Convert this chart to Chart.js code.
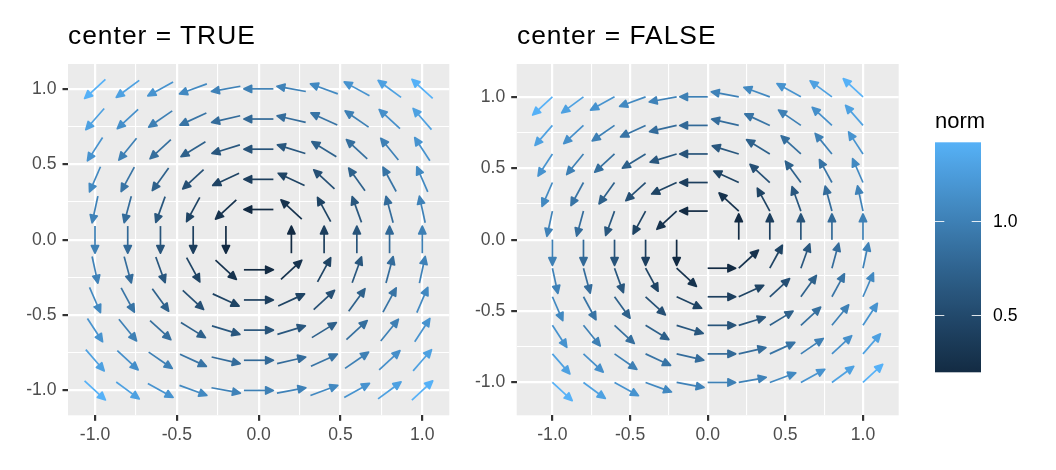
<!DOCTYPE html>
<html>
<head>
<meta charset="UTF-8" />
<title>vector field: center = TRUE / FALSE</title>
<script src="https://cdn.jsdelivr.net/npm/chart.js@4.4.1/dist/chart.umd.min.js"></script>
<style>
  html, body { margin: 0; padding: 0; background: #ffffff; }
  #wrap { position: relative; width: 1056px; height: 470px; overflow: hidden; }
  #wrap canvas { position: absolute; left: 0; top: 0; }
  .ptitle { position: absolute; font-family: "Liberation Sans", Arial, sans-serif; font-size: 26.4px; line-height: 26.4px; letter-spacing: 1px; color: #000; white-space: nowrap; }
</style>
</head>
<body>
<div id="wrap">
  <canvas id="c1" width="1056" height="470"></canvas>
  <canvas id="c2" width="1056" height="470"></canvas>
  <div class="ptitle" style="left:68px; top:22px;">center = TRUE</div>
  <div class="ptitle" style="left:517px; top:22px;">center = FALSE</div>
</div>
<script>
// grid of the field (x along a row, y rows from top to bottom)
const gridX = [-1, -0.8, -0.6, -0.4, -0.2, 0, 0.2, 0.4, 0.6, 0.8, 1];
const gridY = [1, 0.8, 0.6, 0.4, 0.2, 0, -0.2, -0.4, -0.6, -0.8, -1];

// field components at each grid point, read row by row
const fieldU = [
  [-1, -1, -1, -1, -1, -1, -1, -1, -1, -1, -1],
  [-0.8, -0.8, -0.8, -0.8, -0.8, -0.8, -0.8, -0.8, -0.8, -0.8, -0.8],
  [-0.6, -0.6, -0.6, -0.6, -0.6, -0.6, -0.6, -0.6, -0.6, -0.6, -0.6],
  [-0.4, -0.4, -0.4, -0.4, -0.4, -0.4, -0.4, -0.4, -0.4, -0.4, -0.4],
  [-0.2, -0.2, -0.2, -0.2, -0.2, -0.2, -0.2, -0.2, -0.2, -0.2, -0.2],
  [0, 0, 0, 0, 0, 0, 0, 0, 0, 0, 0],
  [0.2, 0.2, 0.2, 0.2, 0.2, 0.2, 0.2, 0.2, 0.2, 0.2, 0.2],
  [0.4, 0.4, 0.4, 0.4, 0.4, 0.4, 0.4, 0.4, 0.4, 0.4, 0.4],
  [0.6, 0.6, 0.6, 0.6, 0.6, 0.6, 0.6, 0.6, 0.6, 0.6, 0.6],
  [0.8, 0.8, 0.8, 0.8, 0.8, 0.8, 0.8, 0.8, 0.8, 0.8, 0.8],
  [1, 1, 1, 1, 1, 1, 1, 1, 1, 1, 1],
];
const fieldV = [
  [-1, -0.8, -0.6, -0.4, -0.2, 0, 0.2, 0.4, 0.6, 0.8, 1],
  [-1, -0.8, -0.6, -0.4, -0.2, 0, 0.2, 0.4, 0.6, 0.8, 1],
  [-1, -0.8, -0.6, -0.4, -0.2, 0, 0.2, 0.4, 0.6, 0.8, 1],
  [-1, -0.8, -0.6, -0.4, -0.2, 0, 0.2, 0.4, 0.6, 0.8, 1],
  [-1, -0.8, -0.6, -0.4, -0.2, 0, 0.2, 0.4, 0.6, 0.8, 1],
  [-1, -0.8, -0.6, -0.4, -0.2, 0, 0.2, 0.4, 0.6, 0.8, 1],
  [-1, -0.8, -0.6, -0.4, -0.2, 0, 0.2, 0.4, 0.6, 0.8, 1],
  [-1, -0.8, -0.6, -0.4, -0.2, 0, 0.2, 0.4, 0.6, 0.8, 1],
  [-1, -0.8, -0.6, -0.4, -0.2, 0, 0.2, 0.4, 0.6, 0.8, 1],
  [-1, -0.8, -0.6, -0.4, -0.2, 0, 0.2, 0.4, 0.6, 0.8, 1],
  [-1, -0.8, -0.6, -0.4, -0.2, 0, 0.2, 0.4, 0.6, 0.8, 1],
];

const majorTicks = [-1, -0.5, 0, 0.5, 1];
const minorTicks = [-0.75, -0.25, 0.25, 0.75];
const legendTicks = [0.5, 1.0];
const arrowLength = 0.18; // every arrow has the same length in data units

const FONT = '"Liberation Sans", Arial, sans-serif';
const lowColour = "#132B43";
const highColour = "#56B1F7";

// points (the origin has no vector, so no arrow)
const points = [];
gridY.forEach((y, i) => gridX.forEach((x, j) => {
  const u = fieldU[i][j], v = fieldV[i][j];
  const norm = Math.hypot(u, v);
  if (norm === 0) return;
  points.push({ x, y, u, v, norm });
}));
const normMin = Math.min(...points.map((p) => p.norm));
const normMax = Math.max(...points.map((p) => p.norm));

// ggplot style gradient, interpolated in Lab
function hexToRgb(h) { return [1, 3, 5].map((i) => parseInt(h.slice(i, i + 2), 16)); }
function toLin(c) { c /= 255; return c <= 0.04045 ? c / 12.92 : Math.pow((c + 0.055) / 1.055, 2.4); }
function fromLin(c) {
  const v = c <= 0.0031308 ? 12.92 * c : 1.055 * Math.pow(c, 1 / 2.4) - 0.055;
  return Math.round(Math.max(0, Math.min(1, v)) * 255);
}
const K = 24389 / 27, E = 216 / 24389;
function rgbToLab(rgb) {
  const [R, G, B] = rgb.map(toLin);
  const X = (0.4124564 * R + 0.3575761 * G + 0.1804375 * B) / 0.95047;
  const Y = 0.2126729 * R + 0.7151522 * G + 0.072175 * B;
  const Z = (0.0193339 * R + 0.119192 * G + 0.9503041 * B) / 1.08883;
  const f = (t) => (t > E ? Math.cbrt(t) : (K * t + 16) / 116);
  const fx = f(X), fy = f(Y), fz = f(Z);
  return [116 * fy - 16, 500 * (fx - fy), 200 * (fy - fz)];
}
function labToCss([L, a, b]) {
  const fy = (L + 16) / 116, fx = fy + a / 500, fz = fy - b / 200;
  const inv = (t) => { const t3 = t * t * t; return t3 > E ? t3 : (116 * t - 16) / K; };
  const X = inv(fx) * 0.95047, Y = inv(fy), Z = inv(fz) * 1.08883;
  const R = 3.2404542 * X - 1.5371385 * Y - 0.4985314 * Z;
  const G = -0.969266 * X + 1.8760108 * Y + 0.041556 * Z;
  const B = 0.0556434 * X - 0.2040259 * Y + 1.0572252 * Z;
  return "rgb(" + fromLin(R) + "," + fromLin(G) + "," + fromLin(B) + ")";
}
const labLow = rgbToLab(hexToRgb(lowColour));
const labHigh = rgbToLab(hexToRgb(highColour));
function gradientAt(t) { return labToCss(labLow.map((c, k) => c + (labHigh[k] - c) * t)); }
function colourFor(norm) { return gradientAt((norm - normMin) / (normMax - normMin)); }

function drawArrow(ctx, x0, y0, x1, y1, colour) {
  const a = Math.atan2(y1 - y0, x1 - x0);
  const side = 8.5, half = (25 * Math.PI) / 180;
  const depth = side * Math.cos(half);
  ctx.strokeStyle = colour;
  ctx.fillStyle = colour;
  ctx.beginPath();
  ctx.moveTo(x0, y0);
  ctx.lineTo(x1 - depth * Math.cos(a), y1 - depth * Math.sin(a));
  ctx.stroke();
  ctx.beginPath();
  ctx.moveTo(x1, y1);
  ctx.lineTo(x1 - side * Math.cos(a - half), y1 - side * Math.sin(a - half));
  ctx.lineTo(x1 - side * Math.cos(a + half), y1 - side * Math.sin(a + half));
  ctx.closePath();
  ctx.fill();
  ctx.stroke();
}

const panelBackground = {
  id: "panelBackground",
  beforeDraw(chart) {
    const { ctx, chartArea: a } = chart;
    ctx.save();
    ctx.fillStyle = "#EBEBEB";
    ctx.fillRect(a.left, a.top, a.right - a.left, a.bottom - a.top);
    ctx.restore();
  },
};

const arrows = {
  id: "arrows",
  afterDatasetsDraw(chart, args, opts) {
    const { ctx } = chart;
    const sx = chart.scales.x, sy = chart.scales.y;
    ctx.save();
    ctx.lineWidth = 1.7;
    ctx.lineJoin = "round";
    ctx.lineCap = "butt";
    chart.data.datasets[0].data.forEach((p) => {
      const k = arrowLength / p.norm;
      const dx = p.u * k, dy = p.v * k;
      const bx = opts.center ? p.x - dx / 2 : p.x;
      const by = opts.center ? p.y - dy / 2 : p.y;
      drawArrow(ctx,
        sx.getPixelForValue(bx), sy.getPixelForValue(by),
        sx.getPixelForValue(bx + dx), sy.getPixelForValue(by + dy),
        colourFor(p.norm));
    });
    ctx.restore();
  },
};

const colourBar = {
  id: "colourBar",
  afterDraw(chart) {
    const { ctx } = chart;
    const left = 935, width = 46, top = 142.3, bottom = 372.3;
    const yFor = (v) => bottom - (v - normMin) / (normMax - normMin) * (bottom - top);
    ctx.save();
    const g = ctx.createLinearGradient(0, bottom, 0, top);
    for (let i = 0; i <= 20; i++) g.addColorStop(i / 20, gradientAt(i / 20));
    ctx.fillStyle = g;
    ctx.fillRect(left, top, width, bottom - top);
    ctx.strokeStyle = "rgba(255,255,255,0.85)";
    ctx.lineWidth = 1;
    ctx.fillStyle = "#000";
    ctx.font = "17.6px " + FONT;
    ctx.textBaseline = "middle";
    legendTicks.forEach((v) => {
      const y = Math.round(yFor(v)) + 0.5;
      ctx.beginPath();
      ctx.moveTo(left, y); ctx.lineTo(left + 9.3, y);
      ctx.moveTo(left + width - 9.3, y); ctx.lineTo(left + width, y);
      ctx.stroke();
      ctx.fillText(v.toFixed(1), 993, yFor(v) + 1);
    });
    ctx.font = "22px " + FONT;
    ctx.textBaseline = "alphabetic";
    ctx.fillText("norm", 935, 128);
    ctx.restore();
  },
};

const isMajor = (v) => majorTicks.includes(v);

function axis(min, max, side, size) {
  return {
    type: "linear",
    min, max,
    afterBuildTicks(scale) {
      scale.ticks = [...majorTicks, ...minorTicks].sort((a, b) => a - b).map((v) => ({ value: v }));
    },
    afterFit(scale) {
      if (side === "x") scale.height = size; else scale.width = size;
    },
    border: { display: false },
    grid: {
      color: "#FFFFFF",
      lineWidth: (c) => (c.tick && isMajor(c.tick.value) ? 2.2 : 1.1),
      drawTicks: true,
      tickLength: 5.5,
      tickWidth: 2.2,
      tickColor: (c) => (c.tick && isMajor(c.tick.value) ? "#333333" : "rgba(0,0,0,0)"),
    },
    ticks: {
      autoSkip: false,
      maxRotation: 0,
      color: "#4D4D4D",
      font: { family: FONT, size: 17.6 },
      padding: side === "x" ? 4 : 6,
      callback: (v) => (isMajor(v) ? v.toFixed(1) : ""),
    },
  };
}

function makePanel(id, center, range, padding, yWidth, extraPlugins) {
  return new Chart(document.getElementById(id), {
    type: "scatter",
    data: { datasets: [{ data: points, pointRadius: 0, pointHoverRadius: 0 }] },
    options: {
      responsive: false,
      animation: false,
      events: [],
      layout: { padding },
      scales: {
        x: axis(-range, range, "x", 54.7),
        y: axis(-range, range, "y", yWidth),
      },
      plugins: {
        legend: { display: false },
        tooltip: { enabled: false },
        arrows: { center },
      },
    },
    plugins: [panelBackground, arrows, ...extraPlugins],
  });
}

makePanel("c1", true, 1.165, { left: 0, top: 64, right: 606.7, bottom: 0 }, 68, []);
makePanel("c2", false, 1.23, { left: 470, top: 64, right: 157.3, bottom: 0 }, 46.7, [colourBar]);
</script>
</body>
</html>
